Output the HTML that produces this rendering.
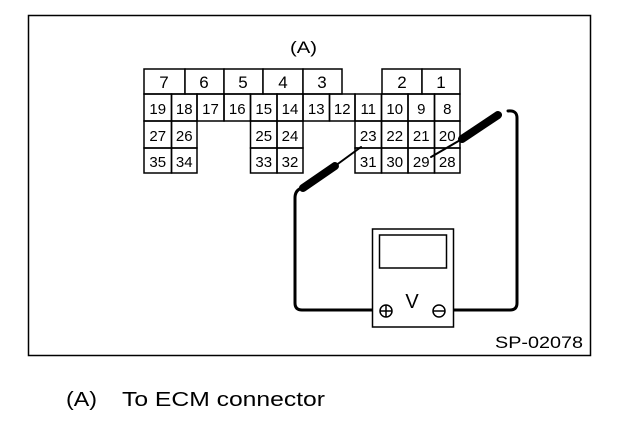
<!DOCTYPE html><html><head><style>body{margin:0;background:#fff}svg{display:block}text{font-family:"Liberation Sans",sans-serif;fill:#000}</style></head><body>
<svg width="624" height="440" viewBox="0 0 624 440">
<rect x="28.5" y="15.5" width="562" height="340" fill="none" stroke="#000" stroke-width="1.5"/>
<text x="290" y="53" font-size="17" textLength="27" lengthAdjust="spacingAndGlyphs">(A)</text>
<g fill="#fff" stroke="#000" stroke-width="1.5">
<rect x="144" y="69" width="41" height="25"/><rect x="185" y="69" width="39" height="25"/><rect x="224" y="69" width="39" height="25"/><rect x="263" y="69" width="40" height="25"/><rect x="303" y="69" width="39" height="25"/>
<rect x="382" y="69" width="40" height="25"/><rect x="422" y="69" width="38" height="25"/>
</g>
<g font-size="17" text-anchor="middle">
<text x="164" y="88">7</text><text x="204" y="88">6</text><text x="243" y="88">5</text><text x="283" y="88">4</text><text x="322" y="88">3</text><text x="402" y="88">2</text><text x="441" y="88">1</text>
</g>
<g fill="none" stroke="#000" stroke-width="1.5">
<rect x="144" y="94" width="27.5" height="27"/><rect x="171.5" y="94" width="25.5" height="27"/><rect x="197" y="94" width="27" height="27"/><rect x="224" y="94" width="26.5" height="27"/><rect x="250.5" y="94" width="26.5" height="27"/><rect x="277" y="94" width="26" height="27"/><rect x="303" y="94" width="26.5" height="27"/><rect x="329.5" y="94" width="25.5" height="27"/><rect x="355" y="94" width="26.5" height="27"/><rect x="381.5" y="94" width="26.5" height="27"/><rect x="408" y="94" width="26.5" height="27"/><rect x="434.5" y="94" width="25.5" height="27"/>
<rect x="144" y="121" width="27.5" height="27"/><rect x="171.5" y="121" width="25.5" height="27"/><rect x="250.5" y="121" width="26.5" height="27"/><rect x="277" y="121" width="26" height="27"/><rect x="355" y="121" width="26.5" height="27"/><rect x="381.5" y="121" width="26.5" height="27"/><rect x="408" y="121" width="26.5" height="27"/><rect x="434.5" y="121" width="25.5" height="27"/>
<rect x="144" y="148" width="27.5" height="25"/><rect x="171.5" y="148" width="25.5" height="25"/><rect x="250.5" y="148" width="26.5" height="25"/><rect x="277" y="148" width="26" height="25"/><rect x="355" y="148" width="26.5" height="25"/><rect x="381.5" y="148" width="26.5" height="25"/><rect x="408" y="148" width="26.5" height="25"/><rect x="434.5" y="148" width="25.5" height="25"/>
</g>
<g font-size="15" text-anchor="middle">
<text x="157.75" y="114">19</text><text x="184.25" y="114">18</text><text x="210.5" y="114">17</text><text x="237.25" y="114">16</text><text x="263.75" y="114">15</text><text x="290" y="114">14</text><text x="316.25" y="114">13</text><text x="342.25" y="114">12</text><text x="368.25" y="114">11</text><text x="394.75" y="114">10</text><text x="421.25" y="114">9</text><text x="447.25" y="114">8</text>
<text x="157.75" y="141">27</text><text x="184.25" y="141">26</text><text x="263.75" y="141">25</text><text x="290" y="141">24</text><text x="368.25" y="141">23</text><text x="394.75" y="141">22</text><text x="421.25" y="141">21</text><text x="447.25" y="141">20</text>
<text x="157.75" y="167">35</text><text x="184.25" y="167">34</text><text x="263.75" y="167">33</text><text x="290" y="167">32</text><text x="368.25" y="167">31</text><text x="394.75" y="167">30</text><text x="421.25" y="167">29</text><text x="447.25" y="167">28</text>
</g>
<g fill="none" stroke="#000" stroke-width="3" stroke-linecap="round">
<path d="M376 310 H302 Q295 310 295 303 V198 Q295 190 302 188"/>
<path d="M446 310 H510 Q517 310 517 303 V118 Q517 110 508 111"/>
</g>
<g stroke="#000" stroke-linecap="round">
<line x1="303" y1="188" x2="335" y2="166" stroke-width="8"/>
<line x1="335" y1="166" x2="361" y2="147" stroke-width="2"/>
<line x1="498" y1="115" x2="462" y2="139" stroke-width="8"/>
<line x1="462" y1="139" x2="431" y2="157" stroke-width="2"/>
</g>
<rect x="372.5" y="229" width="81" height="98" fill="#fff" stroke="#000" stroke-width="1.5"/>
<rect x="379.5" y="235" width="67" height="33" fill="#fff" stroke="#000" stroke-width="1.5"/>
<circle cx="386" cy="311" r="6" fill="#fff" stroke="#000" stroke-width="1.5"/><path d="M380 311h12M386 305v12" stroke="#000" stroke-width="1.5"/>
<circle cx="439" cy="311" r="6" fill="#fff" stroke="#000" stroke-width="1.5"/><path d="M433 311h12" stroke="#000" stroke-width="1.5"/>
<text x="412" y="308" font-size="20" text-anchor="middle">V</text>
<text x="495" y="348" font-size="17" textLength="88" lengthAdjust="spacingAndGlyphs">SP-02078</text>
<text x="66" y="406" font-size="20" textLength="31" lengthAdjust="spacingAndGlyphs">(A)</text><text x="122" y="406" font-size="20" textLength="203" lengthAdjust="spacingAndGlyphs">To ECM connector</text>
</svg></body></html>
